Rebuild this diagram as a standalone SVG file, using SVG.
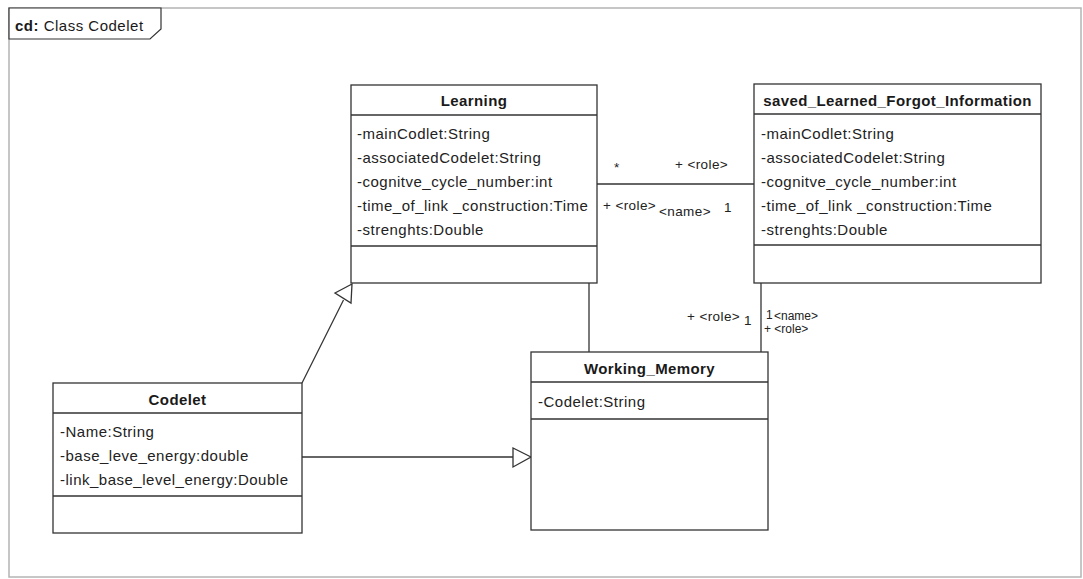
<svg xmlns="http://www.w3.org/2000/svg" width="1083" height="579" viewBox="0 0 1083 579">
<style>
  .frame { fill: none; stroke: #b4b4b4; stroke-width: 1.5; }
  .tab { fill: #ffffff; stroke: #333333; stroke-width: 1.2; }
  .box { fill: #ffffff; stroke: #333333; stroke-width: 1.3; }
  .sep { stroke: #333333; stroke-width: 1.3; }
  .title { font-family: "Liberation Sans", Arial, sans-serif; font-size: 15px; font-weight: bold; fill: #1a1a1a; text-anchor: middle; letter-spacing: 0.4px; }
  .attr { font-family: "Liberation Sans", Arial, sans-serif; font-size: 15px; fill: #222222; letter-spacing: 0.5px; }
  .lbl { font-family: "Liberation Sans", Arial, sans-serif; font-size: 13.5px; fill: #222222; letter-spacing: 0.4px; }
  .sm { font-size: 12px; letter-spacing: 0; }
  .conn { fill: none; stroke: #333333; stroke-width: 1.3; }
  .gen { fill: #ffffff; stroke: #333333; stroke-width: 1.3; }
  .ftitle { font-family: "Liberation Sans", Arial, sans-serif; font-size: 15px; fill: #1a1a1a; letter-spacing: 0.5px; }
</style>

<g id="frame">
  <rect class="frame" x="9" y="8" width="1072" height="569"/>
  <path class="tab" d="M9,8 H161 V29 L150,39 H9 Z"/>
  <text class="ftitle" x="15" y="31"><tspan font-weight="bold">cd:</tspan> Class Codelet</text>
</g>

<g id="connectors">
  <!-- association Learning - saved -->
  <line class="conn" x1="597" y1="184" x2="754" y2="184"/>
  <!-- association Learning - Working_Memory -->
  <line class="conn" x1="589" y1="283" x2="589" y2="352"/>
  <!-- association saved - Working_Memory -->
  <line class="conn" x1="761" y1="283" x2="761" y2="352"/>
  <!-- generalization Codelet -> Learning -->
  <line class="conn" x1="302" y1="383" x2="343.5" y2="300"/>
  <polygon class="gen" points="352,284 335,293 351,303"/>
  <!-- generalization Codelet -> Working_Memory -->
  <line class="conn" x1="302" y1="457" x2="513" y2="457"/>
  <polygon class="gen" points="531,457 513,448 513,467"/>

  <!-- labels -->
  <text class="lbl" x="614" y="172">*</text>
  <text class="lbl" x="675" y="169">+ &lt;role&gt;</text>
  <text class="lbl" x="603" y="210">+ &lt;role&gt;</text>
  <text class="lbl" x="659" y="216">&lt;name&gt;</text>
  <text class="lbl" x="724" y="212">1</text>
  <text class="lbl" x="687" y="321">+ &lt;role&gt;</text>
  <text class="lbl" x="744" y="325">1</text>
  <text class="lbl sm" x="764" y="333">+ &lt;role&gt;</text>
  <text class="lbl sm" x="766" y="319">1</text>
  <text class="lbl sm" x="774" y="320">&lt;name&gt;</text>
</g>

<g id="node-learning">
  <rect class="box" x="351" y="85" width="246" height="198"/>
  <line class="sep" x1="351" y1="115" x2="597" y2="115"/>
  <line class="sep" x1="351" y1="246" x2="597" y2="246"/>
  <text class="title" x="474" y="106">Learning</text>
  <text class="attr" x="357" y="138.5">-mainCodlet:String</text>
  <text class="attr" x="357" y="162.5">-associatedCodelet:String</text>
  <text class="attr" x="357" y="186.5">-cognitve_cycle_number:int</text>
  <text class="attr" x="357" y="210.5">-time_of_link _construction:Time</text>
  <text class="attr" x="357" y="234.5">-strenghts:Double</text>
</g>

<g id="node-saved">
  <rect class="box" x="754" y="84" width="287" height="199"/>
  <line class="sep" x1="754" y1="114" x2="1041" y2="114"/>
  <line class="sep" x1="754" y1="245" x2="1041" y2="245"/>
  <text class="title" x="897.5" y="106">saved_Learned_Forgot_Information</text>
  <text class="attr" x="761" y="138.5">-mainCodlet:String</text>
  <text class="attr" x="761" y="162.5">-associatedCodelet:String</text>
  <text class="attr" x="761" y="186.5">-cognitve_cycle_number:int</text>
  <text class="attr" x="761" y="210.5">-time_of_link _construction:Time</text>
  <text class="attr" x="761" y="234.5">-strenghts:Double</text>
</g>

<g id="node-working-memory">
  <rect class="box" x="531" y="352" width="237" height="178"/>
  <line class="sep" x1="531" y1="382" x2="768" y2="382"/>
  <line class="sep" x1="531" y1="419" x2="768" y2="419"/>
  <text class="title" x="649.5" y="374">Working_Memory</text>
  <text class="attr" x="538" y="407">-Codelet:String</text>
</g>

<g id="node-codelet">
  <rect class="box" x="53" y="383" width="249" height="150"/>
  <line class="sep" x1="53" y1="413" x2="302" y2="413"/>
  <line class="sep" x1="53" y1="496" x2="302" y2="496"/>
  <text class="title" x="177.5" y="405">Codelet</text>
  <text class="attr" x="60" y="437">-Name:String</text>
  <text class="attr" x="60" y="461">-base_leve_energy:double</text>
  <text class="attr" x="60" y="485">-link_base_level_energy:Double</text>
</g>
</svg>
